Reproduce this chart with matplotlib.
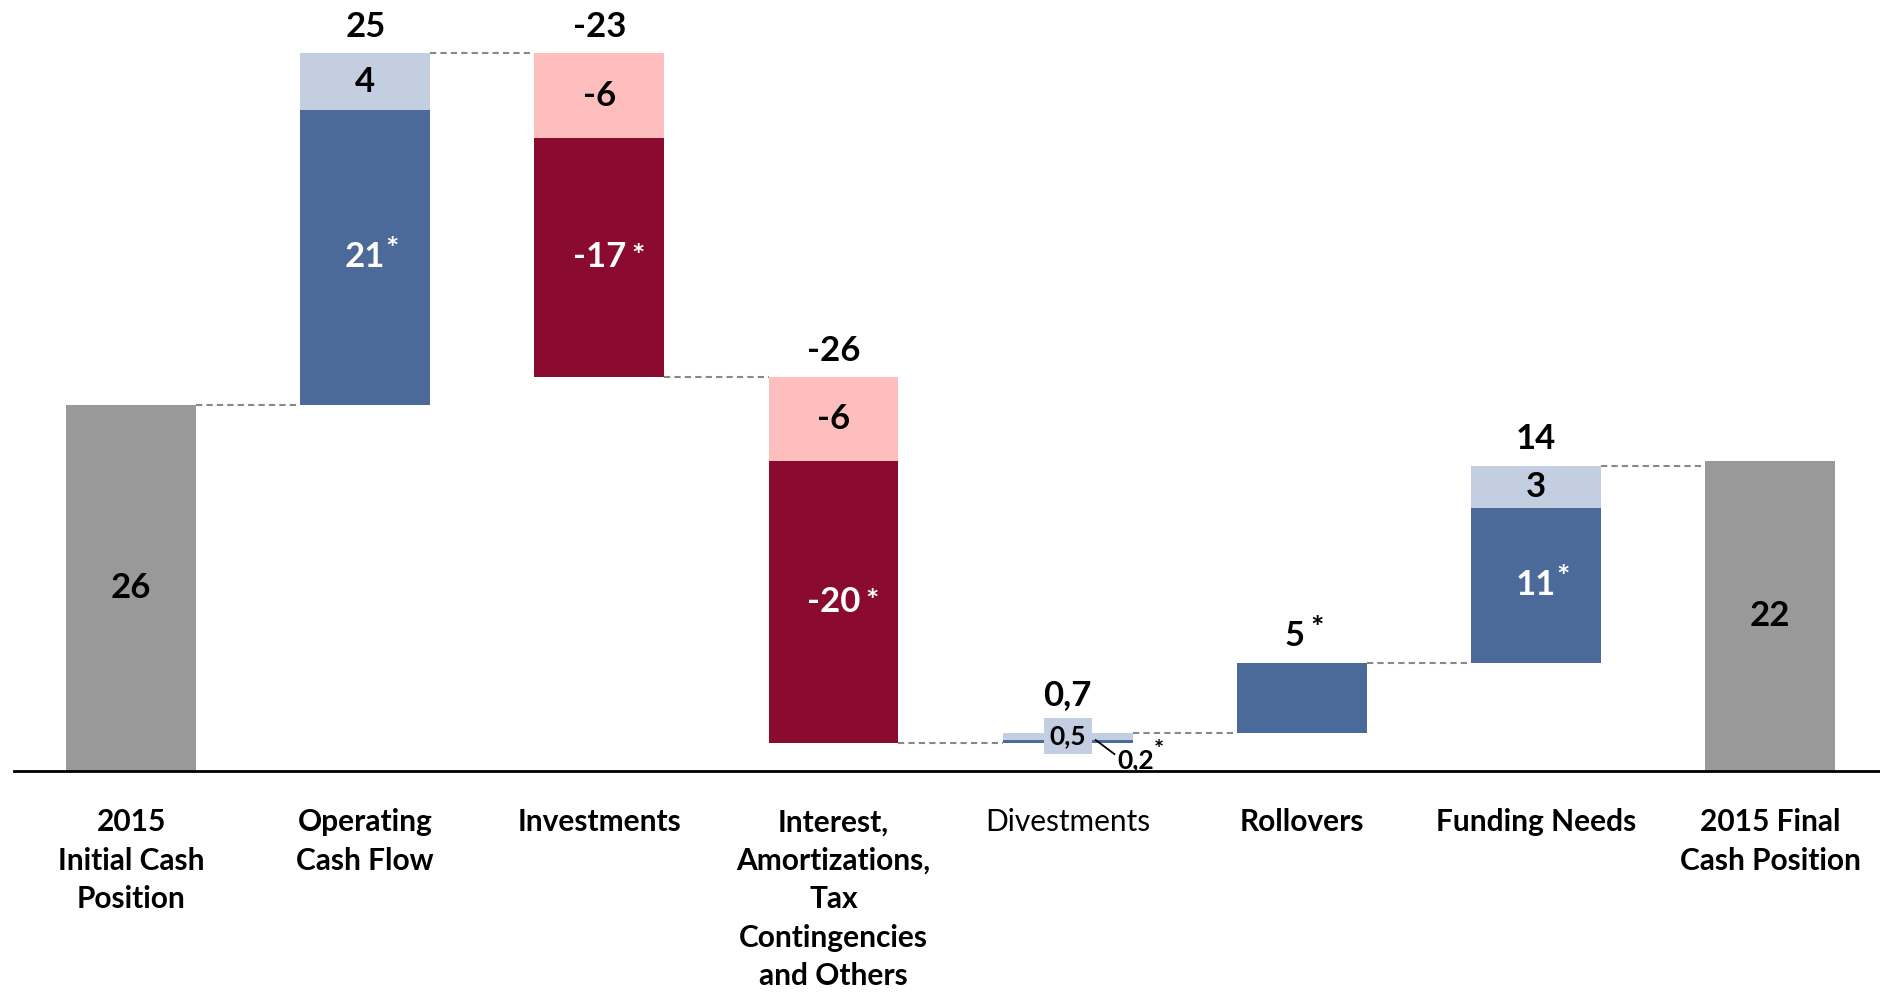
import matplotlib
matplotlib.use("Agg")
import matplotlib.pyplot as plt

# cash position bridge 2015 (EUR bn)
categories = ["2015\nInitial Cash\nPosition", "Operating\nCash Flow", "Investments",
              "Interest,\nAmortizations,\nTax\nContingencies\nand Others",
              "Divestments", "Rollovers", "Funding Needs", "2015 Final\nCash Position"]
initial_cash = 26
final_cash = 22
# steps between the two positions: starred part and additional part
step_main = [21, -17, -20, 0.2, 5, 11]
step_extra = [4, -6, -6, 0.5, 0, 3]
step_total = [25, -23, -26, 0.7, 5, 14]

GREY = "#999999"
BLUE = "#4b6a99"
LIGHT_BLUE = "#c3cee1"
RED = "#8b0a2f"
PINK = "#ffbebe"

plt.rcParams['font.family'] = ['Lato', 'DejaVu Sans']

def fmt(v):
    return ("%g" % v).replace(".", ",")

def star_text(ax, x, y, txt, color, size, star_dx=1, star_dy=3):
    t = ax.text(x, y, txt, ha="center", va="center", color=color,
                fontsize=size, fontweight="bold")
    ax.annotate("*", xy=(1, 1), xycoords=t, xytext=(star_dx, star_dy),
                textcoords="offset points", ha="left", va="top",
                color=color, fontsize=size * 0.9, fontweight="bold")
    return t

fig = plt.figure(figsize=(18.8, 9.92), dpi=100)
ax = fig.add_axes([0.0075, 0.2228, 0.9925, 0.7772])
ax.set_xlim(-0.5, 7.47)
ax.set_ylim(0, 54.8)
width = 0.555
big = 25
conn = dict(color="#888888", lw=1.5, ls=(0, (3, 2)), zorder=1)

# opening position
ax.bar(0, initial_cash, width, color=GREY, zorder=2)
ax.text(0, initial_cash / 2, fmt(initial_cash), ha="center", va="center",
        fontsize=big, fontweight="bold")

level = initial_cash
prev_edge = 0 + width / 2
for i, (m, e, tot) in enumerate(zip(step_main, step_extra, step_total)):
    x = i + 1
    dark_col = BLUE if tot > 0 else RED
    light_col = LIGHT_BLUE if tot > 0 else PINK
    ax.plot([prev_edge, x - width / 2], [level, level], **conn)
    if tot > 0:
        dark_bottom, light_bottom = level, level + m
    else:
        light_bottom, dark_bottom = level, level + e
    ax.bar(x, m, width, bottom=dark_bottom, color=dark_col, zorder=2)
    if e:
        ax.bar(x, e, width, bottom=light_bottom, color=light_col, zorder=2)
    top = max(level, level + tot)
    dark_mid = dark_bottom + m / 2
    light_mid = light_bottom + e / 2

    if categories[x] == "Divestments":
        # thin bar: inline label for the extra part, leader line for the rest
        ax.text(x, light_mid + 0.05, fmt(e), ha="center", va="center",
                fontsize=19, fontweight="bold",
                bbox=dict(boxstyle="square,pad=0.22", fc=LIGHT_BLUE, ec="none"),
                zorder=3)
        ax.plot([x + 0.12, x + 0.2], [dark_mid + 0.1, dark_mid - 0.9],
                color="black", lw=1.3, zorder=3)
        star_text(ax, x + 0.29, dark_mid - 1.3, fmt(m), "black", 19, 0, 6)
        ax.annotate(fmt(tot), xy=(x, top), xytext=(0, 27),
                    textcoords="offset points", ha="center", va="center",
                    fontsize=big, fontweight="bold")
    elif e == 0:
        t = ax.annotate(fmt(tot), xy=(x - 0.03, top), xytext=(0, 19),
                        textcoords="offset points", ha="center", va="center",
                        fontsize=big, fontweight="bold")
        ax.annotate("*", xy=(1, 1), xycoords=t, xytext=(4, 4),
                    textcoords="offset points", ha="left", va="top",
                    fontsize=big * 0.9, fontweight="bold")
    else:
        star_text(ax, x, dark_mid, fmt(m), "white", big,
                  0 if tot > 0 else 4, 4 if tot > 0 else -1)
        ax.text(x, light_mid, fmt(e), ha="center", va="center",
                fontsize=big, fontweight="bold")
        ax.annotate(fmt(tot), xy=(x, top), xytext=(0, 19),
                    textcoords="offset points", ha="center", va="center",
                    fontsize=big, fontweight="bold")
    level = level + tot
    prev_edge = x + width / 2

# closing position
xf = len(categories) - 1
ax.plot([prev_edge, xf - width / 2], [level, level], **conn)
ax.bar(xf, final_cash, width, color=GREY, zorder=2)
ax.text(xf, final_cash / 2, fmt(final_cash), ha="center", va="center",
        fontsize=big, fontweight="bold")

# category names under the axis line
for i, name in enumerate(categories):
    ax.annotate(name, xy=(i, 0), xycoords=ax.get_xaxis_transform(),
                xytext=(0, -27), textcoords="offset points",
                ha="center", va="top", fontsize=21.5, linespacing=1.45,
                fontweight="normal" if name == "Divestments" else "bold")

for s in ["top", "left", "right"]:
    ax.spines[s].set_visible(False)
ax.spines["bottom"].set_linewidth(2)
ax.set_xticks([])
ax.set_yticks([])

fig.savefig("out.png", dpi=100)
